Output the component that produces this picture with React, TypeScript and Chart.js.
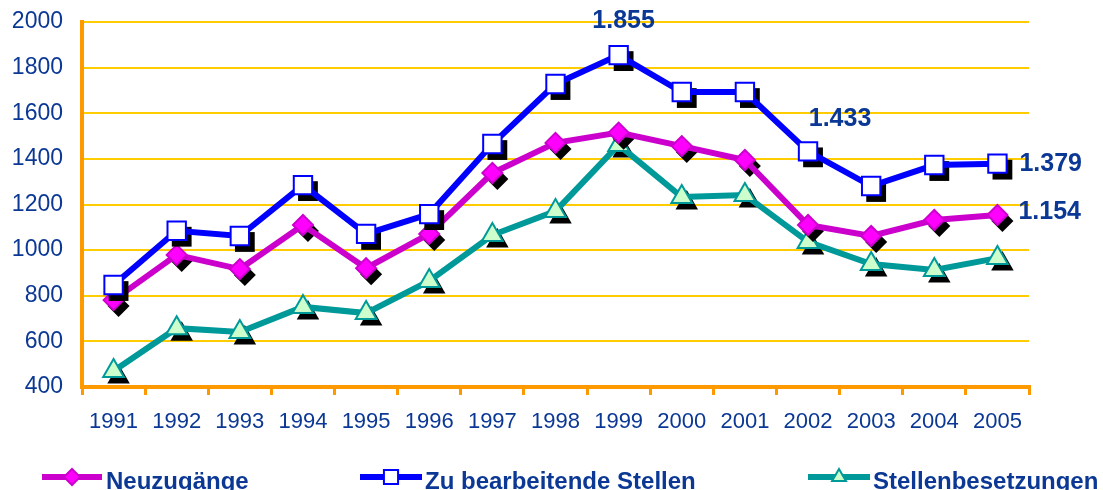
import React, { useEffect, useRef } from 'react';
import { Chart, registerables } from 'chart.js';

Chart.register(...registerables);

const years = ['1991', '1992', '1993', '1994', '1995', '1996', '1997', '1998', '1999', '2000', '2001', '2002', '2003', '2004', '2005'];
const neuzugaenge = [781, 979, 917, 1110, 921, 1071, 1338, 1470, 1515, 1456, 1395, 1110, 1062, 1132, 1154];
const zuBearbeitende = [847, 1085, 1062, 1285, 1071, 1158, 1465, 1728, 1855, 1693, 1693, 1433, 1281, 1373, 1379];
const stellenbesetzungen = [470, 658, 641, 751, 724, 865, 1066, 1171, 1461, 1233, 1242, 1036, 939, 913, 965];
const seriesNames = ['Neuzugänge', 'Zu bearbeitende Stellen', 'Stellenbesetzungen'];
const yMin = 400;
const yMax = 2000;
const yStep = 200;
// value labels: [dataset index, point index]
const labelledPoints: [number, number][] = [[1, 8], [1, 11], [1, 14], [0, 14]];

const TEXT_BLUE = '#0b3894';
const FONT = '"Liberation Sans", Arial, sans-serif';

function fmt(n: number) {
  return n >= 1000 ? Math.floor(n / 1000) + '.' + String(n % 1000).padStart(3, '0') : String(n);
}

function markerPath(ctx: CanvasRenderingContext2D, style: string, x: number, y: number, r: number) {
  ctx.beginPath();
  if (style === 'rect') {
    const s = Math.SQRT1_2 * r;
    ctx.rect(x - s, y - s, 2 * s, 2 * s);
  } else if (style === 'rectRot') {
    ctx.moveTo(x - r, y);
    ctx.lineTo(x, y - r);
    ctx.lineTo(x + r, y);
    ctx.lineTo(x, y + r);
    ctx.closePath();
  } else {
    let rad = 0;
    ctx.moveTo(x + Math.sin(rad) * r, y - Math.cos(rad) * r);
    rad += (2 * Math.PI) / 3;
    ctx.lineTo(x + Math.sin(rad) * r, y - Math.cos(rad) * r);
    rad += (2 * Math.PI) / 3;
    ctx.lineTo(x + Math.sin(rad) * r, y - Math.cos(rad) * r);
    ctx.closePath();
  }
}

const shadowPlugin = {
  id: 'markerShadow',
  beforeDatasetDraw(chart: any, args: any) {
    const ctx = chart.ctx;
    const ds = chart.data.datasets[args.index];
    const meta = chart.getDatasetMeta(args.index);
    ctx.save();
    ctx.fillStyle = '#000';
    meta.data.forEach((el: any) => {
      markerPath(ctx, ds.pointStyle, el.x + 5, el.y + 6, ds.pointRadius + 1);
      ctx.fill();
    });
    ctx.restore();
  },
};

const valueLabelPlugin = {
  id: 'valueLabels',
  afterDatasetsDraw(chart: any) {
    const ctx = chart.ctx;
    const offsets: Record<string, [number, number, CanvasTextAlign]> = {
      '1-8': [5, -34, 'center'],
      '1-11': [32, -32, 'center'],
      '1-14': [22, 0, 'left'],
      '0-14': [21, -3, 'left'],
    };
    ctx.save();
    ctx.font = `bold 25px ${FONT}`;
    ctx.fillStyle = TEXT_BLUE;
    ctx.textBaseline = 'middle';
    labelledPoints.forEach(([d, i]) => {
      const el = chart.getDatasetMeta(d).data[i];
      const v = chart.data.datasets[d].data[i];
      const [dx, dy, align] = offsets[`${d}-${i}`];
      ctx.textAlign = align;
      ctx.fillText(fmt(v), el.x + dx, el.y + dy);
    });
    ctx.restore();
  },
};

const legendPlugin = {
  id: 'customLegend',
  afterDraw(chart: any) {
    const ctx = chart.ctx;
    const items = [
      { ds: 0, x1: 42, x2: 102, tx: 106 },
      { ds: 1, x1: 360, x2: 422, tx: 425 },
      { ds: 2, x1: 808, x2: 870, tx: 873 },
    ];
    const y = 477;
    ctx.save();
    items.forEach((it) => {
      const ds = chart.data.datasets[it.ds];
      ctx.strokeStyle = ds.borderColor;
      ctx.lineWidth = 6;
      ctx.beginPath();
      ctx.moveTo(it.x1, y);
      ctx.lineTo(it.x2, y);
      ctx.stroke();
      const cx = (it.x1 + it.x2) / 2;
      markerPath(ctx, ds.pointStyle, cx, y, ds.pointStyle === 'rect' ? 10 : 8);
      ctx.fillStyle = ds.pointBackgroundColor;
      ctx.fill();
      ctx.lineWidth = 2;
      ctx.strokeStyle = ds.pointBorderColor;
      ctx.stroke();
      ctx.font = `bold 24px ${FONT}`;
      ctx.fillStyle = TEXT_BLUE;
      ctx.textAlign = 'left';
      ctx.textBaseline = 'middle';
      ctx.fillText(seriesNames[it.ds], it.tx, y + 5);
    });
    ctx.restore();
  },
};

export default function App() {
  const canvasRef = useRef<HTMLCanvasElement | null>(null);

  useEffect(() => {
    if (!canvasRef.current) return;
    const chart = new Chart(canvasRef.current, {
      type: 'line',
      data: {
        labels: years,
        datasets: [
          {
            label: seriesNames[0],
            data: neuzugaenge,
            borderColor: '#CC00CC',
            borderWidth: 6,
            pointStyle: 'rectRot',
            pointRadius: 10,
            pointBackgroundColor: '#FF00FF',
            pointBorderColor: '#CC00CC',
            pointBorderWidth: 2,
            order: 1,
          } as any,
          {
            label: seriesNames[1],
            data: zuBearbeitende,
            borderColor: '#0000FF',
            borderWidth: 6,
            pointStyle: 'rect',
            pointRadius: 13,
            pointBackgroundColor: '#FFFFFF',
            pointBorderColor: '#0000FF',
            pointBorderWidth: 2,
            order: 0,
          } as any,
          {
            label: seriesNames[2],
            data: stellenbesetzungen,
            borderColor: '#009999',
            borderWidth: 6,
            pointStyle: 'triangle',
            pointRadius: 12,
            pointBackgroundColor: '#CCFFCC',
            pointBorderColor: '#009999',
            pointBorderWidth: 2,
            order: 2,
          } as any,
        ],
      },
      options: {
        responsive: false,
        animation: false,
        devicePixelRatio: 1,
        layout: { autoPadding: false, padding: { left: 0, top: 22, right: 74, bottom: 0 } },
        plugins: {
          legend: { display: false },
          tooltip: { enabled: false },
        },
        scales: {
          x: {
            offset: true,
            grid: {
              offset: true,
              drawOnChartArea: false,
              drawTicks: true,
              tickLength: 8,
              color: '#FF9900',
              lineWidth: 3,
            },
            border: { color: '#FF9900', width: 4 },
            ticks: {
              color: TEXT_BLUE,
              font: { family: FONT, size: 22 },
              padding: 14,
              maxRotation: 0,
            },
            afterFit: (s: any) => {
              s.height = 103;
            },
          },
          y: {
            min: yMin,
            max: yMax,
            grid: { color: '#FFCC00', lineWidth: 2, drawTicks: false },
            border: { color: '#FF9900', width: 4 },
            ticks: {
              stepSize: yStep,
              color: TEXT_BLUE,
              font: { family: FONT, size: 23 },
              padding: 19,
              callback: (v: any) => String(v),
            },
            afterFit: (s: any) => {
              s.width = 82;
              s.paddingTop = 0;
              s.paddingBottom = 0;
            },
          },
        },
      },
      plugins: [shadowPlugin, valueLabelPlugin, legendPlugin],
    });
    return () => chart.destroy();
  }, []);

  return (
    <div style={{ position: 'fixed', left: 0, top: 0, width: 1103, height: 490, background: '#fff' }}>
      <canvas ref={canvasRef} width={1103} height={490} style={{ width: 1103, height: 490 }} />
    </div>
  );
}
